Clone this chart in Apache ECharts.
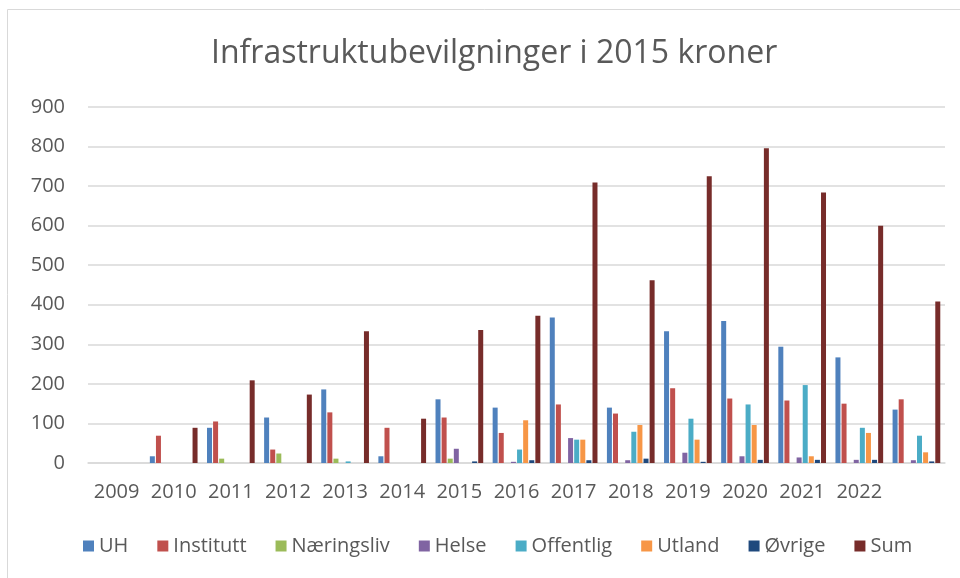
<!DOCTYPE html>
<html lang="no" style="height: 100%">
<head>
    <meta charset="utf-8">
    <title>Infrastruktubevilgninger</title>
    <script src="https://cdn.jsdelivr.net/npm/echarts@6/dist/echarts.min.js"></script>
</head>
<body style="height: 100%; margin: 0; background: #fff">
    <div id="main" style="width: 960px; height: 578px"></div>
    <script type="text/javascript">
        // kategorier (siste gruppe har ingen etikett i originalen)
        var years = ['2009', '2010', '2011', '2012', '2013', '2014', '2015', '2016', '2017', '2018', '2019', '2020', '2021', '2022', ''];

        var uh          = [0, 17, 89, 115, 186, 17, 161, 140, 368, 140, 333, 359, 294, 267, 135];
        var institutt   = [0, 69, 105, 34, 128, 89, 115, 76, 148, 125, 189, 163, 158, 150, 161];
        var naeringsliv = [0, 0, 11, 24, 11, 0, 11, 0, 0, 0, 0, 0, 0, 0, 0];
        var helse       = [0, 0, 0, 0, 0, 0, 36, 3, 63, 7, 26, 17, 14, 8, 7];
        var offentlig   = [0, 0, 0, 0, 4, 0, 0, 34, 59, 79, 112, 148, 197, 89, 69];
        var utland      = [0, 0, 0, 0, 0, 0, 0, 108, 59, 96, 59, 96, 17, 76, 27];
        var ovrige      = [0, 0, 0, 0, 0, 0, 4, 7, 7, 11, 3, 8, 8, 8, 4];
        var sum         = [0, 89, 209, 173, 333, 112, 336, 372, 709, 462, 725, 796, 684, 600, 408];

        var seriesNames  = ['UH', 'Institutt', 'Næringsliv', 'Helse', 'Offentlig', 'Utland', 'Øvrige', 'Sum'];
        var seriesData   = [uh, institutt, naeringsliv, helse, offentlig, utland, ovrige, sum];
        var seriesColors = ['#4F81BD', '#C0504D', '#9BBB59', '#8064A2', '#4BACC6', '#F79646', '#1F497D', '#772C2A'];

        var myChart = echarts.init(document.getElementById('main'));

        var series = seriesNames.map(function (name, i) {
            return {
                name: name,
                type: 'bar',
                barWidth: 5,
                barGap: '22%',
                // null for 0 så det ikke tegnes tomme streker
                data: seriesData[i].map(function (v) { return v === 0 ? null : v; }),
                itemStyle: { color: seriesColors[i] }
            };
        });

        var option = {
            animation: false,
            color: seriesColors,
            textStyle: { fontFamily: 'Open Sans' },
            title: {
                text: 'Infrastruktubevilgninger i 2015 kroner',
                left: 206,
                top: 33,
                textStyle: { fontSize: 32, fontWeight: 'normal', color: '#595959', fontFamily: 'Open Sans' }
            },
            legend: {
                bottom: 17,
                left: 78,
                itemWidth: 11,
                itemHeight: 11,
                itemGap: 29,
                icon: 'rect',
                textStyle: { fontSize: 20, color: '#595959' }
            },
            grid: { left: 88, right: 15, top: 107, bottom: 115 },
            xAxis: {
                type: 'category',
                data: years,
                axisLine: { lineStyle: { color: '#D9D9D9', width: 1.5 } },
                axisTick: { show: false },
                axisLabel: { fontSize: 20, color: '#595959', margin: 19, interval: 0 }
            },
            yAxis: {
                type: 'value',
                min: 0,
                max: 900,
                interval: 100,
                axisLine: { show: false },
                axisTick: { show: false },
                axisLabel: { fontSize: 20, color: '#595959', margin: 23 },
                splitLine: { lineStyle: { color: '#D9D9D9', width: 1.5 } }
            },
            graphic: [{
                type: 'rect',
                left: 5, top: 7,
                shape: { width: 960, height: 580 },
                style: { fill: 'none', stroke: '#D9D9D9', lineWidth: 1 },
                silent: true
            }],
            series: series
        };

        myChart.setOption(option);
    </script>
</body>
</html>
